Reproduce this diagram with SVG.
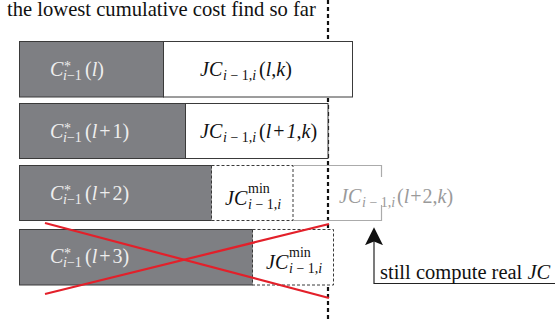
<svg xmlns="http://www.w3.org/2000/svg" width="555" height="320" viewBox="0 0 555 320">
<style>
text{font-family:"Liberation Serif",serif;font-size:20px;fill:#111}
.g{fill:#7e7f83;stroke:#3a3a3a;stroke-width:1}
.w{fill:#fff;stroke:#3a3a3a;stroke-width:1}
.d{fill:#fff;stroke:#3a3a3a;stroke-width:1;stroke-dasharray:3 2}
text.lt{fill:#eeeeee}
text.gr{fill:#9a9a9a}
.it{font-style:italic}
.s{font-size:14px}
.red{stroke:#e3202a;stroke-width:2.2;fill:none}
</style>
<defs>
<marker id="ah" viewBox="0 0 10 10" refX="9" refY="5" markerWidth="18" markerHeight="18" markerUnits="userSpaceOnUse" orient="auto">
<path d="M0,0 L10,5 L0,10 L2,5 Z" fill="#111"/>
</marker>
</defs>
<rect width="555" height="320" fill="#fff"/>
<text x="7" y="16" font-family="Liberation Serif, serif" style="font-size:20.6px">the lowest cumulative cost find so far</text>
<g id="connectors">
<line x1="328" y1="0" x2="328" y2="320" stroke="#111" stroke-width="2.2" stroke-dasharray="4 3"/>
</g>
<g id="row1">
<rect class="g" x="19.5" y="41.5" width="144" height="55.5"/>
<rect class="w" x="163.5" y="41.5" width="189" height="55.5"/>
<text class="lt" font-family="Liberation Serif, serif"><tspan x="50" y="76" class="it">C</tspan><tspan x="64" y="71" class="s">*</tspan><tspan x="63" y="80" class="s"><tspan class="it">i</tspan>−1</tspan><tspan x="85" y="76">(<tspan class="it">l</tspan>)</tspan></text>
<text font-family="Liberation Serif, serif"><tspan x="200" y="76" class="it">JC</tspan><tspan x="223" y="80" class="s"><tspan class="it">i</tspan> − 1,<tspan class="it">i</tspan></tspan><tspan x="259" y="76">(<tspan class="it">l</tspan>,<tspan class="it">k</tspan>)</tspan></text>
</g>
<g id="row2">
<rect class="g" x="19.5" y="103.5" width="166" height="55"/>
<rect class="w" x="185.5" y="103.5" width="142.5" height="55"/>
<text class="lt" font-family="Liberation Serif, serif"><tspan x="50" y="138" class="it">C</tspan><tspan x="64" y="133" class="s">*</tspan><tspan x="63" y="142" class="s"><tspan class="it">i</tspan>−1</tspan><tspan x="85" y="138">(<tspan class="it">l</tspan><tspan dx="2">+</tspan><tspan dx="2">1)</tspan></tspan></text>
<text font-family="Liberation Serif, serif"><tspan x="200" y="138" class="it">JC</tspan><tspan x="223" y="142" class="s"><tspan class="it">i</tspan> − 1,<tspan class="it">i</tspan></tspan><tspan x="259" y="138">(<tspan class="it">l</tspan><tspan dx="2">+</tspan><tspan dx="2" class="it">1</tspan>,<tspan class="it">k</tspan>)</tspan></text>
</g>
<g id="row3">
<rect class="g" x="19.5" y="165.5" width="192" height="55"/>
<rect class="d" x="211.5" y="165.5" width="81.5" height="55"/>
<path d="M293,165.5 H381.5 V220.5 H293" fill="none" stroke="#ababab" stroke-width="1.2"/>
<rect x="334" y="177" width="126" height="28" fill="#fff"/>
<text class="lt" font-family="Liberation Serif, serif"><tspan x="50" y="200" class="it">C</tspan><tspan x="64" y="195" class="s">*</tspan><tspan x="63" y="204" class="s"><tspan class="it">i</tspan>−1</tspan><tspan x="85" y="200">(<tspan class="it">l</tspan><tspan dx="2">+</tspan><tspan dx="2">2)</tspan></tspan></text>
<text font-family="Liberation Serif, serif"><tspan x="225" y="205" class="it">JC</tspan><tspan x="248" y="193" class="s">min</tspan><tspan x="248" y="209" class="s"><tspan class="it">i</tspan> − 1,<tspan class="it">i</tspan></tspan></text>
<text class="gr" font-family="Liberation Serif, serif"><tspan x="339" y="203" class="it">JC</tspan><tspan x="362" y="207" class="s"><tspan class="it">i</tspan> − 1,<tspan class="it">i</tspan></tspan><tspan x="397" y="203">(<tspan class="it">l</tspan><tspan dx="1">+</tspan><tspan dx="1">2,</tspan><tspan class="it">k</tspan>)</tspan></text>
</g>
<g id="row4">
<rect class="g" x="19.5" y="229.5" width="233" height="55.5"/>
<rect class="d" x="252.5" y="229.5" width="81" height="55.5"/>
<text class="lt" font-family="Liberation Serif, serif"><tspan x="50" y="263" class="it">C</tspan><tspan x="64" y="258" class="s">*</tspan><tspan x="63" y="267" class="s"><tspan class="it">i</tspan>−1</tspan><tspan x="85" y="263">(<tspan class="it">l</tspan><tspan dx="2">+</tspan><tspan dx="2">3)</tspan></tspan></text>
<text font-family="Liberation Serif, serif"><tspan x="266" y="269" class="it">JC</tspan><tspan x="289" y="257" class="s">min</tspan><tspan x="289" y="273" class="s"><tspan class="it">i</tspan> − 1,<tspan class="it">i</tspan></tspan></text>
<line class="red" x1="45" y1="223" x2="329" y2="298"/>
<line class="red" x1="45" y1="294" x2="329" y2="224"/>
</g>
<g id="note">
<path d="M374,283.5 H555" fill="none" stroke="#222" stroke-width="1.2"/>
<path d="M374,284 V229" fill="none" stroke="#222" stroke-width="1.2" marker-end="url(#ah)"/>
<text x="380" y="279" font-family="Liberation Serif, serif" style="font-size:20.5px">still compute real <tspan class="it">JC</tspan></text>
</g>
</svg>
